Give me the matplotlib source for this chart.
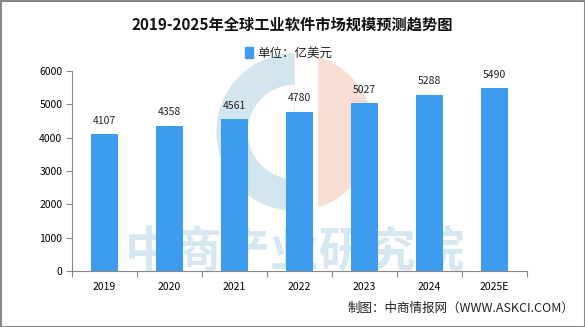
import matplotlib
matplotlib.use("Agg")
import matplotlib.pyplot as plt
from matplotlib.patches import Wedge, Rectangle

plt.rcParams['font.family'] = ['Noto Sans CJK SC', 'DejaVu Sans']

years = ['2019', '2020', '2021', '2022', '2023', '2024', '2025E']
values = [4107, 4358, 4561, 4780, 5027, 5288, 5490]
yticks = [0, 1000, 2000, 3000, 4000, 5000, 6000]

bar_color = '#3D9BF0'

fig = plt.figure(figsize=(5.85, 3.27), dpi=100)
ax = fig.add_axes([72/585, 1-271/327, (527-72)/585, 200/327])

# watermark
wax = fig.add_axes([0, 0, 1, 1], zorder=-1)
wax.set_xlim(0, 585); wax.set_ylim(327, 0); wax.axis('off')
wax.add_patch(Wedge((295, 132), 78, 80, 275, width=30, color='#d3e5ef'))
wax.add_patch(Wedge((295, 132), 78, -90, 90, color='#f8ddd2'))
wax.add_patch(Rectangle((295, 50), 22, 170, color='white'))
wax.text(295, 253, '中商产业研究院', fontsize=35, fontweight='bold', color='#d6e7f1',
         ha='center', va='center')
ax.patch.set_alpha(0)

x = list(range(len(years)))
ax.bar(x, values, width=0.42, color=bar_color, zorder=2)
for xi, v in zip(x, values):
    ax.text(xi, v + 250, str(v), ha='center', va='bottom', fontsize=7.5, color='#222222')

ax.set_xlim(-0.5, len(years) - 0.5)
ax.set_ylim(0, 6000)
ax.set_yticks(yticks)
ax.set_yticklabels([str(t) for t in yticks], fontsize=7.5)
ax.set_xticks([i - 0.5 for i in range(len(years) + 1)])
ax.set_xticklabels([])
ax.set_xticks(x, minor=True)
ax.set_xticklabels(years, minor=True, fontsize=7.5)
ax.tick_params(axis='x', which='major', length=4, color='#888888', direction='out')
ax.tick_params(axis='x', which='minor', length=0, pad=8)
ax.tick_params(axis='y', length=4, color='#888888', pad=3)
for s in ['top', 'right']:
    ax.spines[s].set_visible(False)
for s in ['left', 'bottom']:
    ax.spines[s].set_color('#888888')
    ax.spines[s].set_linewidth(0.8)

fig.text(0.5, 1-25/327, '2019-2025年全球工业软件市场规模预测趋势图', ha='center', va='center',
         fontsize=11, fontweight='bold', color='#111111')
fig.patches.append(Rectangle((245/585, 1-58/327), 8/585, 11/327, transform=fig.transFigure,
                             color=bar_color, figure=fig))
fig.text(257/585, 1-53/327, '单位：亿美元', ha='left', va='center', fontsize=9, color='#222222')
fig.text(574/585, 1-308/327, '制图：中商情报网（WWW.ASKCI.COM）', ha='right', va='center',
         fontsize=9, color='#222222')

fig.patches.append(Rectangle((0.5/585, 0.5/327), 1-1/585, 1-1/327, transform=fig.transFigure,
                             fill=False, edgecolor='#888888', linewidth=1.5, figure=fig))

fig.savefig('out.png', dpi=100)
